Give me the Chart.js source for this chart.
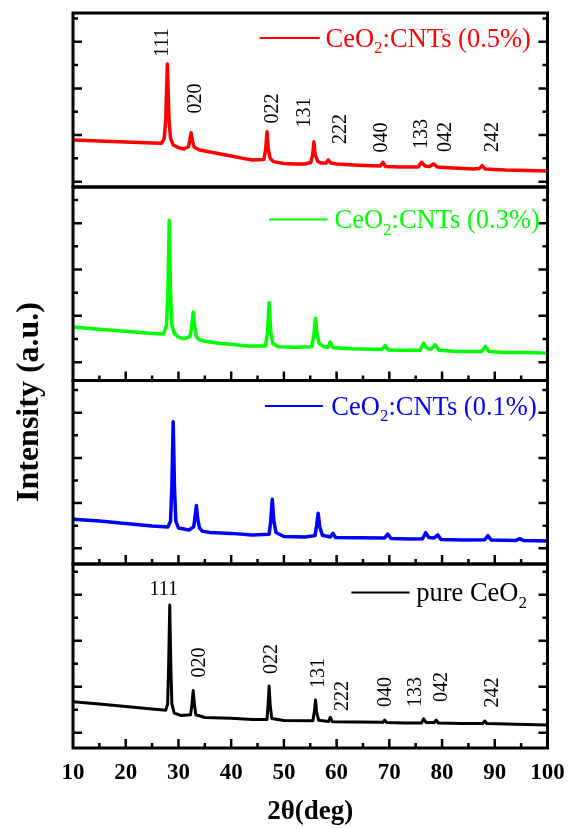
<!DOCTYPE html>
<html><head><meta charset="utf-8">
<script src="https://cdn.jsdelivr.net/npm/chart.js@4.4.1/dist/chart.umd.min.js"></script>
<style>
html,body{margin:0;padding:0;background:#fff;}
#wrap{position:relative;width:571px;height:828px;overflow:hidden;background:#fff;}
#wrap canvas{position:absolute;left:0;top:0;}
</style></head><body>
<div id="wrap">
<canvas id="c0" width="571" height="828"></canvas>
<canvas id="c1" width="571" height="828"></canvas>
<canvas id="c2" width="571" height="828"></canvas>
<canvas id="c3" width="571" height="828"></canvas>
</div>
<script>
// ---------- data (2θ in degrees, intensity in a.u.) ----------
const seriesNames = ['CeO2:CNTs (0.5%)', 'CeO2:CNTs (0.3%)', 'CeO2:CNTs (0.1%)', 'pure CeO2'];
const hklLabels = ['111', '020', '022', '131', '222', '040', '133', '042', '242'];
const xTickValues = [10, 15, 20, 25, 30, 35, 40, 45, 50, 55, 60, 65, 70, 75, 80, 85, 90, 95, 100];
const xTickLabels = ['10', '20', '30', '40', '50', '60', '70', '80', '90', '100'];
const yTickValues = [0, 100, 200, 300, 400, 500, 600, 700];
const xAxisTitle = '2θ(deg)';
const yAxisTitle = 'Intensity (a.u.)';

const redTheta = [10,15,20,25,26.8,27.3,27.6,27.9,28.2,28.5,29.0,29.5,30,31,31.9,32.15,32.4,32.65,33.0,34,36,38,40,42,44,46.2,46.55,46.8,47.05,47.4,48,50,52,54,55.1,55.45,55.7,55.95,56.4,57,58,58.4,58.9,60,64,68.3,68.8,69.3,72,75.5,76.1,76.8,77.6,78.4,79.1,82,86,87.1,87.6,88.2,92,96,100];
const redIntensity = [179,174,170,166,165,185,270,504,270,185,158,152,146,140,150,175,210,175,148,136,127,119,110,101,93,95,140,214,140,100,86,78,76,76,82,115,171,115,88,80,80,93,80,76,71,67,83,65,63,63,83,67,65,76,63,59,54,57,69,54,50,48,46];

const greenTheta = [10,15,20,25,27.2,27.75,28.0,28.25,28.5,28.75,29.2,30,31,32.2,32.55,32.8,33.05,33.4,34,35,38,40,43,46.5,46.9,47.2,47.5,47.9,49,52,55.3,55.7,56.0,56.3,56.7,57.5,58.4,58.8,59.3,63,68.6,69.2,69.8,73,75.8,76.5,77.2,77.9,78.7,79.4,83,87.5,88.2,88.9,92,96,100];
const greenIntensity = [152,142,133,124,122,160,300,613,300,160,125,108,101,110,160,216,160,110,96,90,81,77,70,70,130,257,130,80,66,64,66,120,190,120,80,68,64,87,62,58,55,72,53,51,51,82,59,56,75,51,46,46,68,46,42,42,39];

const blueTheta = [10,15,20,25,28,28.5,28.75,29.0,29.25,29.5,30,32,32.9,33.15,33.4,33.65,34,34.5,36,40,44,47.2,47.5,47.8,48.1,48.5,50,54,55.9,56.2,56.5,56.8,57.3,58.8,59.3,59.8,64,69.1,69.7,70.3,74,76.3,76.9,77.5,78.5,79.2,79.8,84,88.1,88.7,89.3,94,94.7,95.4,100];
const blueIntensity = [128,121,110,99,94,120,270,560,270,120,90,81,95,140,189,130,90,76,70,66,59,62,120,217,120,70,52,50,56,100,155,95,58,50,66,48,47,46,63,43,41,42,69,48,46,59,39,37,38,56,37,35,43,35,32];

const blackTheta = [10,15,20,25,27.6,27.95,28.15,28.35,28.55,28.75,29.2,30.5,32.3,32.55,32.8,33.05,33.3,35,40,44,46.8,47.0,47.2,47.4,47.7,50,55.5,55.8,56.0,56.2,56.6,58.5,58.8,59.2,64,68.8,69.1,69.5,73,76.1,76.5,77.0,78.5,78.9,79.3,84,87.7,88.1,88.5,94,100];
const blackIntensity = [135,125,114,103,98,125,300,555,300,125,85,75,78,120,183,120,78,66,63,57,57,120,203,120,62,53,52,95,142,90,54,49,67,48,47,45,55,44,42,42,60,44,44,55,42,40,40,51,40,37,33];

// ---------- layout / style ----------
const FONT = "'Liberation Serif','Times New Roman',serif";
const panels = [
  { canvas: 'c0', name: seriesNames[0], theta: redTheta, inten: redIntensity, color: '#ff0000', lw: 3.5,
    box: [13, 187], yRange: [-22.7, 723.1], xTicks: false,
    legend: { x0: 45.4, x1: 56.8, y: 616, tx: 57.9 },
    labels: { x: [26.8, 33.1, 47.65, 53.8, 60.6, 68.35, 75.9, 80.6, 89.5], y: [597, 357, 314, 297, 226, 189, 204, 192, 192], rotateFirst: true } },
  { canvas: 'c1', name: seriesNames[1], theta: greenTheta, inten: greenIntensity, color: '#00ff00', lw: 3.5,
    box: [187, 380.5], yRange: [-79.2, 756.3], xTicks: true,
    legend: { x0: 47.2, x1: 58.3, y: 616, tx: 59.6 } },
  { canvas: 'c2', name: seriesNames[2], theta: blueTheta, inten: blueIntensity, color: '#0000ff', lw: 3.5,
    box: [380.5, 564], yRange: [-69.5, 742.5], xTicks: true,
    legend: { x0: 46.4, x1: 57.4, y: 630, tx: 59.0 } },
  { canvas: 'c3', name: seriesNames[3], theta: blackTheta, inten: blackIntensity, color: '#000000', lw: 3,
    box: [564, 748], yRange: [-66.5, 733.5], xTicks: true, axisText: true,
    legend: { x0: 62.8, x1: 73.85, y: 610, tx: 75.1 },
    labels: { x: [27.2, 33.9, 47.6, 56.5, 61.0, 69.1, 74.8, 79.8, 89.4], y: [627, 305, 320, 260, 160, 177, 177, 199, 175], rotateFirst: false } }
];

function drawName(ctx, name, x, y, size, color) {
  const i = name.indexOf('O2');
  const parts = i >= 0 ? [[name.slice(0, i + 1), false], ['2', true], [name.slice(i + 2), false]] : [[name, false]];
  let cx = x;
  ctx.fillStyle = color;
  ctx.textAlign = 'left';
  ctx.textBaseline = 'alphabetic';
  parts.forEach(([t, sub]) => {
    ctx.font = (sub ? Math.round(size * 0.66) : size) + 'px ' + FONT;
    ctx.fillText(t, cx, sub ? y + size * 0.24 : y);
    cx += ctx.measureText(t).width;
  });
}

const deco = {
  id: 'deco',
  afterDatasetsDraw(chart) {
    const o = chart.options.plugins.deco;
    const ctx = chart.ctx, a = chart.chartArea, x = chart.scales.x, y = chart.scales.y;
    ctx.save();
    // frame
    ctx.strokeStyle = '#000';
    ctx.lineWidth = 3;
    ctx.strokeRect(a.left, a.top, a.right - a.left, a.bottom - a.top);
    // inner ticks
    ctx.lineWidth = 2.5;
    ctx.beginPath();
    y.ticks.forEach(t => {
      const py = y.getPixelForValue(t.value);
      const len = (t.value % 200 === 0) ? 9 : 5;
      ctx.moveTo(a.left, py); ctx.lineTo(a.left + len, py);
      ctx.moveTo(a.right, py); ctx.lineTo(a.right - len, py);
    });
    if (o.xTicks) {
      x.ticks.forEach(t => {
        if (t.value <= x.min || t.value >= x.max) return;
        const px = x.getPixelForValue(t.value);
        const len = (t.value % 10 === 0) ? 9 : 5;
        ctx.moveTo(px, a.bottom); ctx.lineTo(px, a.bottom - len);
      });
    }
    ctx.stroke();
    // legend
    const L = o.legend;
    ctx.strokeStyle = o.color;
    ctx.lineWidth = 2;
    ctx.beginPath();
    ctx.moveTo(x.getPixelForValue(L.x0), y.getPixelForValue(L.y));
    ctx.lineTo(x.getPixelForValue(L.x1), y.getPixelForValue(L.y));
    ctx.stroke();
    drawName(ctx, o.name, x.getPixelForValue(L.tx), y.getPixelForValue(L.y) + 9, 26.5, o.color);
    // hkl labels
    if (o.labels) {
      ctx.fillStyle = '#000';
      ctx.font = '20px ' + FONT;
      ctx.textAlign = 'center';
      ctx.textBaseline = 'middle';
      hklLabels.forEach((txt, i) => {
        const px = x.getPixelForValue(o.labels.x[i]);
        const py = y.getPixelForValue(o.labels.y[i]);
        ctx.save();
        ctx.translate(px, py);
        if (i > 0 || o.labels.rotateFirst) ctx.rotate(-Math.PI / 2);
        ctx.fillText(txt, 0, 1);
        ctx.restore();
      });
    }
    // axis texts
    if (o.axisText) {
      ctx.fillStyle = '#000';
      ctx.font = 'bold 23px ' + FONT;
      ctx.textAlign = 'center';
      ctx.textBaseline = 'alphabetic';
      x.ticks.forEach(t => {
        if (t.value % 10 !== 0) return;
        const idx = xTickLabels.indexOf(String(t.value));
        if (idx < 0) return;
        ctx.fillText(xTickLabels[idx], x.getPixelForValue(t.value), a.bottom + 31);
      });
      ctx.font = 'bold 27px ' + FONT;
      ctx.fillText(xAxisTitle, (a.left + a.right) / 2, a.bottom + 71);
      ctx.save();
      ctx.translate(30, 402);
      ctx.rotate(-Math.PI / 2);
      ctx.font = 'bold 32px ' + FONT;
      ctx.textBaseline = 'middle';
      ctx.fillText(yAxisTitle, 0, 0);
      ctx.restore();
    }
    ctx.restore();
  }
};

panels.forEach(p => {
  const el = document.getElementById(p.canvas);
  new Chart(el, {
    type: 'line',
    data: {
      datasets: [{
        label: p.name,
        data: p.theta.map((t, i) => ({ x: t, y: p.inten[i] })),
        borderColor: p.color,
        borderWidth: p.lw,
        pointRadius: 0,
        fill: false,
        tension: 0,
        borderJoinStyle: 'round'
      }]
    },
    options: {
      responsive: false,
      animation: false,
      devicePixelRatio: 1,
      events: [],
      layout: { padding: { left: 73, right: 23.5, top: p.box[0], bottom: 828 - p.box[1] } },
      scales: {
        x: { type: 'linear', min: 10, max: 100, display: false,
             afterBuildTicks: s => { s.ticks = xTickValues.map(v => ({ value: v })); } },
        y: { type: 'linear', min: p.yRange[0], max: p.yRange[1], display: false,
             afterBuildTicks: s => { s.ticks = yTickValues.map(v => ({ value: v })); } }
      },
      plugins: {
        legend: { display: false },
        tooltip: { enabled: false },
        deco: { xTicks: p.xTicks, legend: p.legend, labels: p.labels, name: p.name, color: p.color, axisText: !!p.axisText }
      }
    },
    plugins: [deco]
  });
});
</script>
</body></html>
